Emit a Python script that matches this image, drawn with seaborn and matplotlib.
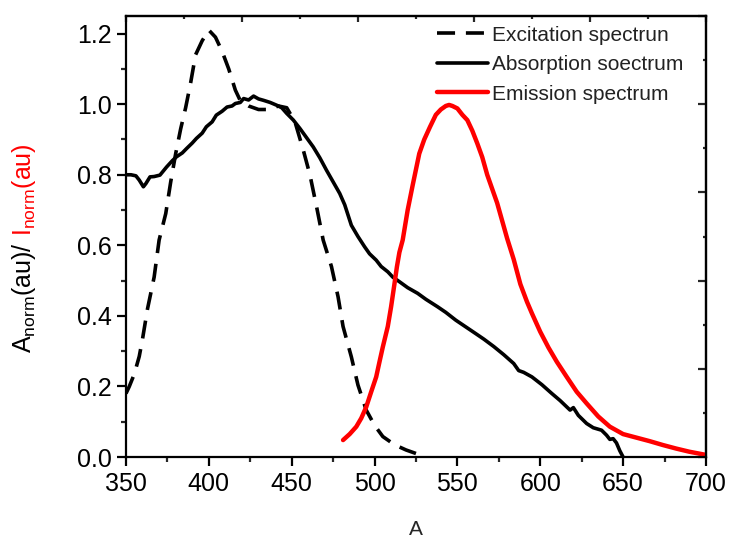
import numpy as np
import pandas as pd
import seaborn as sns
import matplotlib.pyplot as plt
from matplotlib.ticker import MultipleLocator


# spectra
exc_x = [350, 352, 355, 358, 360, 363, 367, 370, 374, 377, 380, 383, 386, 389, 392, 396,
         400, 404, 408, 412, 416, 419, 424, 430, 436, 442, 447, 452, 457, 461, 465, 469,
         474, 478, 481, 486, 490, 495, 500, 505, 512, 519, 525]
exc_y = [0.18, 0.20, 0.235, 0.285, 0.335, 0.42, 0.51, 0.615, 0.69, 0.78, 0.86, 0.93, 0.99, 1.06,
         1.14, 1.18, 1.21, 1.19, 1.15, 1.10, 1.04, 1.01, 0.995, 0.985, 0.985, 0.995, 0.99,
         0.95, 0.87, 0.80, 0.71, 0.615, 0.54, 0.454, 0.37, 0.284, 0.204, 0.133, 0.09, 0.058,
         0.035, 0.02, 0.01]

abs_x = [350, 353, 356, 358, 360.5, 362, 364.5, 367, 370.5, 374.5, 378, 380.5, 384, 386.5,
         390, 392.5, 396, 398.5, 402, 404.5, 408, 411, 414, 416, 419, 421, 424, 427, 430,
         433, 437, 441, 444, 447, 451, 455, 459, 463, 467, 471, 475, 479, 482, 486, 490,
         494, 497, 501, 504, 508, 511, 515, 520, 526, 531, 538, 543, 549, 555, 561, 566,
         572, 578, 584, 587, 590, 595, 601, 607, 612, 618, 620, 623, 628, 632, 637, 640,
         642, 644, 646, 648, 650]
abs_y = [0.80, 0.80, 0.797, 0.785, 0.766, 0.775, 0.794, 0.795, 0.799, 0.822, 0.84, 0.851,
         0.862, 0.874, 0.89, 0.903, 0.918, 0.936, 0.95, 0.969, 0.98, 0.992, 0.995, 1.002,
         1.005, 1.016, 1.012, 1.023, 1.015, 1.011, 1.005, 0.997, 0.99, 0.974, 0.955, 0.931,
         0.905, 0.879, 0.848, 0.813, 0.78, 0.747, 0.715, 0.657, 0.625, 0.596, 0.576, 0.558,
         0.54, 0.525, 0.51, 0.497, 0.48, 0.464, 0.447, 0.426, 0.41, 0.388, 0.369, 0.35,
         0.334, 0.313, 0.29, 0.265, 0.245, 0.24, 0.227, 0.205, 0.18, 0.16, 0.133, 0.14,
         0.118, 0.095, 0.083, 0.076, 0.062, 0.05, 0.052, 0.04, 0.018, 0.0]

emi_x = [481, 485, 489, 492, 495, 498, 501, 503, 505, 508, 510, 512, 513.5, 515, 517, 520,
         523, 527, 530, 533.5, 537, 540, 543, 545, 547, 550, 553, 556, 559, 562, 565, 568,
         571, 574, 577, 580, 584, 588, 592, 595, 600, 605, 610, 616, 622, 628, 635, 642,
         650, 658, 666, 674, 682, 690, 700]
emi_y = [0.048, 0.065, 0.086, 0.11, 0.142, 0.185, 0.227, 0.27, 0.312, 0.37, 0.426, 0.49,
         0.539, 0.58, 0.615, 0.70, 0.77, 0.86, 0.90, 0.936, 0.97, 0.985, 0.995, 0.998,
         0.995, 0.988, 0.97, 0.955, 0.925, 0.889, 0.85, 0.80, 0.76, 0.72, 0.67, 0.62,
         0.56, 0.49, 0.44, 0.407, 0.355, 0.31, 0.27, 0.227, 0.185, 0.152, 0.115, 0.086,
         0.065, 0.055, 0.045, 0.034, 0.024, 0.015, 0.006]

labels = ['Excitation spectrun', 'Absorption soectrum', 'Emission spectrum']

sns.set_style("ticks")
plt.rcParams['font.family'] = ['Liberation Sans', 'DejaVu Sans']
plt.rcParams['mathtext.fontset'] = 'custom'
plt.rcParams['mathtext.rm'] = 'Liberation Sans'
plt.rcParams['mathtext.it'] = 'Liberation Sans'

fig = plt.figure(figsize=(7.32, 5.39), dpi=100)
ax = fig.add_axes([0.1721, 0.1521, 0.7923, 0.8182])

sns.lineplot(x=exc_x, y=exc_y, ax=ax, color='black', linewidth=2.6,
             linestyle=(0, (5, 3)), label=labels[0])
sns.lineplot(x=abs_x, y=abs_y, ax=ax, color='black', linewidth=2.6, label=labels[1])
sns.lineplot(x=emi_x, y=emi_y, ax=ax, color='#ff0000', linewidth=3.2, label=labels[2])

ax.set_xlim(350, 700)
ax.set_ylim(0, 1.25)
ax.xaxis.set_major_locator(MultipleLocator(50))
ax.xaxis.set_minor_locator(MultipleLocator(25))
ax.yaxis.set_major_locator(MultipleLocator(0.2))
ax.yaxis.set_minor_locator(MultipleLocator(0.1))
ax.yaxis.set_major_formatter(plt.FuncFormatter(lambda v, p: f'{v:.1f}'))

for s in ax.spines.values():
    s.set_linewidth(1.6)
    s.set_color('black')
ax.tick_params(which='major', direction='out', length=6.5, width=1.6,
               labelsize=18, pad=4, colors='black')
ax.tick_params(which='minor', direction='out', length=3.5, width=1.6)

# unlabelled inward ticks on top and right
top = ax.secondary_xaxis('top')
top.xaxis.set_major_locator(MultipleLocator(70))
top.xaxis.set_minor_locator(MultipleLocator(35))
top.tick_params(which='major', direction='in', length=4.5, width=1.6, labeltop=False)
top.tick_params(which='minor', direction='in', length=2.5, width=1.6)
right = ax.secondary_yaxis('right')
right.yaxis.set_major_locator(MultipleLocator(0.25))
right.yaxis.set_minor_locator(MultipleLocator(0.125))
right.tick_params(which='major', direction='in', length=6, width=1.6, labelright=False)
right.tick_params(which='minor', direction='in', length=2.5, width=1.6)
for sec in (top, right):
    for s in sec.spines.values():
        s.set_linewidth(1.6)

ax.set_xlabel('A', fontsize=15)
ax.xaxis.set_label_coords(0.5, -0.177)
ax.xaxis.label.set_va('baseline')

leg = ax.legend(loc='upper left', bbox_to_anchor=(0.536, 0.978), frameon=False,
                fontsize=15, handlelength=2.45, handletextpad=0.2, labelspacing=0.5,
                borderpad=0, borderaxespad=0)
for t in leg.get_texts():
    t.set_color('#222222')

# two-colour y label
fig.canvas.draw()
t1 = fig.text(24 / 732, 1 - 353 / 539, r'A$_{\mathrm{norm}}$(au)/', rotation=90,
              ha='center', va='bottom', fontsize=18, color='black')
fig.canvas.draw()
bb = t1.get_window_extent()
y_top = fig.transFigure.inverted().transform((0, bb.y1 + 6))[1]
fig.text(24 / 732, y_top, r'I$_{\mathrm{norm}}$(au)', rotation=90,
         ha='center', va='bottom', fontsize=18, color='#ff0000')

fig.savefig('out.png', dpi=100)
